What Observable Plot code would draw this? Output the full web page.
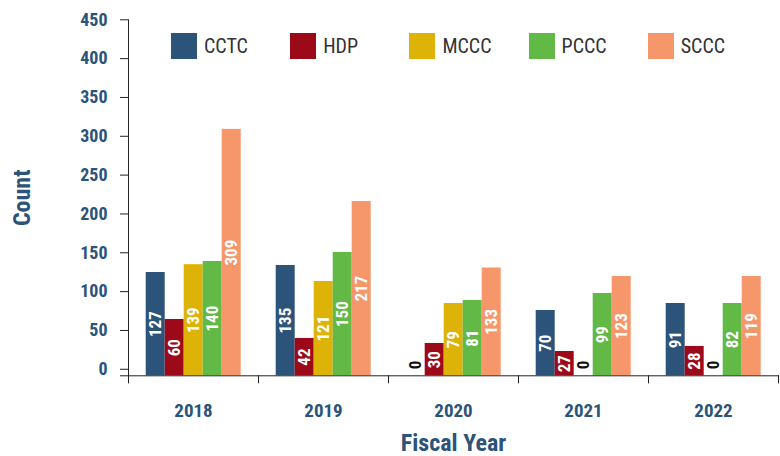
<!DOCTYPE html>
<html>
<head>
<meta charset="utf-8">
<script src="https://cdn.jsdelivr.net/npm/d3@7"></script>
<script src="https://cdn.jsdelivr.net/npm/@observablehq/plot@0.6"></script>
<style>
  html, body { margin: 0; padding: 0; background: #fff; }
  #wrap { position: relative; width: 780px; height: 456px; overflow: hidden; }
  #legend { position: absolute; left: 171px; top: 33px; display: flex; }
  #legend .item { width: 119.2px; display: flex; align-items: center; }
  #legend .sw { width: 26px; height: 26px; margin-right: 7px; flex: none; }
  #legend .lb { font-family: "Roboto Condensed", "Liberation Sans Narrow", Roboto, sans-serif; font-size: 20px; color: #333; line-height: 26px; }
</style>
</head>
<body>
<div id="wrap"><div id="legend"></div></div>
<script>
// ---- data ----
const years = ["2018", "2019", "2020", "2021", "2022"];
const series = ["CCTC", "HDP", "MCCC", "PCCC", "SCCC"];
const colors = ["#2c5379", "#9c0a1a", "#deb307", "#62b946", "#f6976b"];

// bar heights as drawn
const cctc = [124.6, 133.6, 0, 75.7, 84.7];
const hdp  = [64.1, 39.7, 33.2, 22.9, 29.4];
const mccc = [134.7, 113.0, 84.7, 0, 0];
const pccc = [138.8, 150.4, 88.6, 97.6, 84.7];
const sccc = [308.9, 216.0, 130.4, 119.5, 119.5];

// printed value labels
const cctcLabels = [127, 135, 0, 70, 91];
const hdpLabels  = [60, 42, 30, 27, 28];
const mcccLabels = [139, 121, 79, 0, 0];
const pcccLabels = [140, 150, 81, 99, 82];
const scccLabels = [309, 217, 133, 123, 119];

const yTicks = [0, 50, 100, 150, 200, 250, 300, 350, 400, 450];

// ---- build table ----
const valueSets = [cctc, hdp, mccc, pccc, sccc];
const labelSets = [cctcLabels, hdpLabels, mcccLabels, pcccLabels, scccLabels];
const rows = [];
years.forEach((yr, j) => series.forEach((s, i) => rows.push({year: yr, series: s, value: valueSets[i][j], label: labelSets[i][j]})));
const nonZero = rows.filter(d => d.value > 0);
const zeros = rows.filter(d => d.value === 0);

// ---- layout ----
const W = 780, H = 456;
const mL = 128.3, mR = 1.7, mT = 19.3, mB = 80.7;
const axisFloor = -8.4;
const bandHalf = (W - mL - mR) / years.length / 2;
const FONT = '"Roboto Condensed", "Liberation Sans Narrow", Roboto, sans-serif';
const blue = "#2c5379";
const ink = "#222";

const chart = Plot.plot({
  width: W, height: H,
  marginLeft: mL, marginRight: mR, marginTop: mT, marginBottom: mB,
  style: {fontFamily: FONT, background: "#fff", overflow: "visible"},
  fx: {domain: years, padding: 0, label: null},
  x: {domain: series, paddingInner: 0, paddingOuter: 0.816, axis: null},
  y: {domain: [axisFloor, 450]},
  color: {domain: series, range: colors},
  marks: [
    Plot.barY(nonZero, {fx: "year", x: "series", y1: () => axisFloor, y2: "value", fill: "series", inset: 0}),
    Plot.text(nonZero, {
      fx: "year", x: "series", y: d => (d.value + axisFloor) / 2,
      text: d => String(d.label), rotate: -90, fill: "#fff", fontSize: 17, fontWeight: 700
    }),
    Plot.text(zeros, {
      fx: "year", x: "series", y: "value", textAnchor: "start",
      text: d => String(d.label), rotate: -90, fill: "#111", fontSize: 17, fontWeight: 700
    }),
    Plot.axisY({ticks: yTicks, tickSize: 8, tickPadding: 13, stroke: ink, fill: blue, fontSize: 18, fontWeight: 700, label: null}),
    Plot.axisY({ticks: [axisFloor], tickSize: 8, tickFormat: () => "", stroke: ink, label: null}),
    Plot.axisFx({anchor: "bottom", tickSize: 8, tickFormat: () => "", dx: -bandHalf, stroke: ink, label: null}),
    Plot.axisFx({anchor: "bottom", ticks: [years[years.length - 1]], tickSize: 8, tickFormat: () => "", dx: bandHalf, stroke: ink, label: null}),
    Plot.axisFx({anchor: "bottom", tickSize: 0, tickPadding: 28, fill: blue, fontSize: 19, fontWeight: 700, label: null}),
    Plot.frame({facet: "super", anchor: "left", stroke: ink}),
    Plot.frame({facet: "super", anchor: "bottom", stroke: ink}),
    Plot.text(["Fiscal Year"], {facet: "super", frameAnchor: "bottom", lineAnchor: "middle", dy: 67.7, fill: blue, fontSize: 24, fontWeight: 700}),
    Plot.text(["Count"], {facet: "super", frameAnchor: "left", textAnchor: "middle", lineAnchor: "middle", rotate: -90, dx: -106.3, fill: blue, fontSize: 24, fontWeight: 700})
  ]
});
document.getElementById("wrap").prepend(chart);

// legend
const legend = d3.select("#legend");
series.forEach((s, i) => {
  const it = legend.append("div").attr("class", "item");
  it.append("div").attr("class", "sw").style("background", colors[i]);
  it.append("div").attr("class", "lb").text(s);
});
</script>
</body>
</html>
